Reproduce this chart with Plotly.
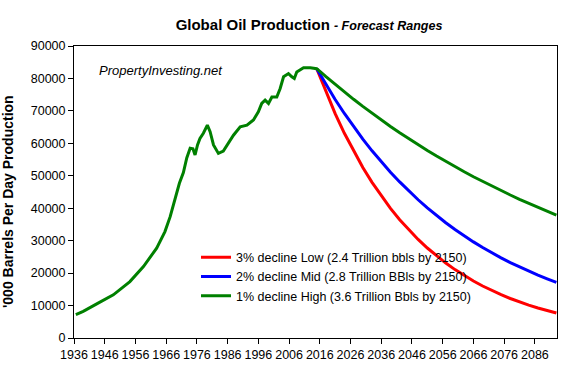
import plotly.graph_objects as go

# Historical production ('000 barrels/day)
hist_years = [1936.6, 1939, 1943.4, 1948.8, 1954.2, 1958.6, 1962.9, 1965.6, 1967.3, 1968.9,
              1970.3, 1971.6, 1972.7, 1973.8, 1974.7, 1975.4, 1976.2, 1977, 1978.1, 1979.4,
              1980.3, 1981.4, 1983, 1984.6, 1986.3, 1987.9, 1990.1, 1992.3, 1994.4, 1996,
              1997.1, 1998.2, 1999.3, 2000.4, 2002, 2003.1, 2004.2, 2005.8, 2006.9, 2007.7,
              2008.5, 2010.7, 2012.9]
hist_values = [7200, 8200, 10500, 13300, 17400, 22000, 27700, 32800, 37400, 43100,
               47700, 51000, 55500, 58500, 58300, 56400, 59500, 61500, 63100, 65600,
               63600, 59500, 56900, 57600, 60000, 62500, 65100, 65600, 67200, 69700,
               72300, 73300, 72300, 74300, 74300, 76900, 80500, 81500, 80500, 80000,
               82000, 83300, 83300]

# Forecast years and values
fc_years = [2015, 2018, 2021, 2024, 2027, 2030, 2033, 2036, 2039, 2042, 2045, 2048, 2051, 2054,
            2057, 2060, 2063, 2066, 2069, 2072, 2075, 2078, 2081, 2084, 2087, 2090, 2093]
low_values = [83000, 75750, 69140, 63100, 57590, 52560, 47970, 43780, 39960, 36470, 33280, 30380,
              27730, 25300, 23090, 21080, 19240, 17560, 16020, 14620, 13350, 12180, 11120, 10150,
              9260, 8450, 7710]
mid_values = [83000, 78120, 73520, 69200, 65130, 61300, 57690, 54300, 51110, 48100, 45270, 42610,
              40100, 37750, 35530, 33440, 31470, 29620, 27880, 26240, 24700, 23240, 21880, 20590,
              19380, 18240, 17170]
high_values = [83000, 80540, 78140, 75820, 73570, 71390, 69270, 67210, 65210, 63280, 61400, 59570,
               57800, 56090, 54420, 52800, 51240, 49710, 48240, 46810, 45420, 44070, 42760, 41490,
               40260, 39060, 37900]

series_names = ["3% decline Low (2.4 Trillion bbls by 2150)",
                "2% decline Mid (2.8 Trillion BBls by 2150)",
                "1% decline High (3.6 Trillion Bbls by 2150)"]
tick_years = list(range(1936, 2087, 10))

FONT = "Liberation Sans, Arial, sans-serif"

fig = go.Figure()
fig.add_trace(go.Scatter(x=fc_years, y=low_values, mode="lines", name=series_names[0],
                         line=dict(color="#FF0000", width=3), legendgroup="a"))
fig.add_trace(go.Scatter(x=fc_years, y=mid_values, mode="lines", name=series_names[1],
                         line=dict(color="#0000FF", width=3), legendgroup="b"))
fig.add_trace(go.Scatter(x=hist_years + fc_years, y=hist_values + high_values, mode="lines",
                         name=series_names[2], line=dict(color="#008000", width=3), legendgroup="c"))

fig.update_layout(
    width=562, height=385,
    margin=dict(l=74, r=5, t=46, b=47),
    paper_bgcolor="white", plot_bgcolor="white",
    font=dict(family=FONT, color="black", size=12),
    title=dict(text="<b>Global Oil Production</b> <b><i><span style='font-size:12.5px'>- Forecast Ranges</span></i></b>",
               x=0.5498, xanchor="center", y=0.935, yanchor="middle",
               font=dict(family=FONT, size=15, color="black")),
    showlegend=True,
    legend=dict(x=0.2526, y=0.327, xanchor="left", yanchor="top", bgcolor="rgba(0,0,0,0)",
                font=dict(family=FONT, size=12.5, color="black"), tracegroupgap=0,
                itemwidth=30),
    xaxis=dict(range=[1936, 2093.2], tickmode="array", tickvals=tick_years,
               ticktext=[str(y) for y in tick_years], ticks="outside", ticklen=5,
               tickcolor="black", showline=True, linecolor="black", linewidth=1, mirror=True,
               showgrid=False, zeroline=False, tickfont=dict(size=12.5, family=FONT)),
    yaxis=dict(range=[0, 90000], dtick=10000, tickformat="d", ticks="outside", ticklen=5,
               tickcolor="black", showline=True, linecolor="black", linewidth=1, mirror=True,
               showgrid=False, zeroline=False, tickfont=dict(size=12.5, family=FONT)),
    annotations=[
        dict(text="<b>'000 Barrels Per Day Production</b>", textangle=-90, xref="paper", yref="paper",
             x=-0.1356, y=0.4675, xanchor="center", yanchor="middle", showarrow=False,
             font=dict(family=FONT, size=14, color="black")),
        dict(text="<i>PropertyInvesting.net</i>", xref="paper", yref="paper",
             x=0.0476, y=0.917, xanchor="left", yanchor="middle", showarrow=False,
             font=dict(family=FONT, size=13, color="black")),
    ],
)

# remove the browser's default 8px body margin so the figure sits at the window origin
fig.write_html("out.html", config={"displayModeBar": False},
               post_script="document.body.style.margin='0px';")
